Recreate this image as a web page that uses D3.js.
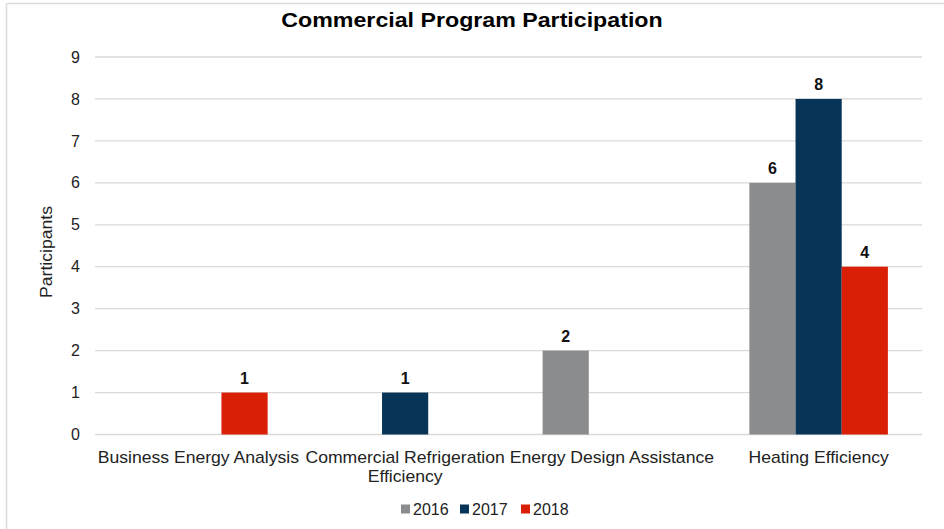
<!DOCTYPE html>
<html>
<head>
<meta charset="utf-8">
<script src="https://cdn.jsdelivr.net/npm/d3@7"></script>
<style>
  html, body { margin: 0; padding: 0; background: #fff; }
  svg { display: block; font-family: "Liberation Sans", Arial, sans-serif; }
</style>
</head>
<body>
<svg id="chart" width="944" height="529"></svg>
<script>
// Program participation counts by year (null = no participants, no bar drawn)
const programs = [
  ["Business Energy Analysis"],
  ["Commercial Refrigeration", "Efficiency"],
  ["Energy Design Assistance"],
  ["Heating Efficiency"]
];
const years = ["2016", "2017", "2018"];
const values2016 = [null, null, 2, 6];
const values2017 = [null, 1, null, 8];
const values2018 = [1, null, null, 4];
const yTicks = [0, 1, 2, 3, 4, 5, 6, 7, 8, 9];
const colors = ["#8b8c8e", "#083557", "#d92007"];

const seriesValues = [values2016, values2017, values2018];
const svg = d3.select("#chart");

// outer frame
svg.append("line").attr("x1", 6.5).attr("x2", 944).attr("y1", 3.5).attr("y2", 3.5)
  .attr("stroke", "#dcdcdc").attr("stroke-width", 1.5);
svg.append("line").attr("x1", 6.5).attr("x2", 6.5).attr("y1", 3.5).attr("y2", 529)
  .attr("stroke", "#dcdcdc").attr("stroke-width", 1.5);

const plotLeft = 95, plotRight = 922, plotTop = 57, plotBottom = 434.5;

const x0 = d3.scaleBand().domain(programs.map(p => p.join(" ")))
  .range([plotLeft, plotRight]).paddingInner(0.33).paddingOuter(0.165);
const x1 = d3.scaleBand().domain(years).range([0, x0.bandwidth()]);
const y = d3.scaleLinear().domain([0, 9]).range([plotBottom, plotTop]);

// title (slightly widened face)
svg.append("text").attr("transform", "translate(472,27) scale(1.16,1)")
  .attr("text-anchor", "middle")
  .attr("font-size", 20).attr("font-weight", "bold").attr("fill", "#000")
  .text("Commercial Program Participation");

// gridlines
svg.append("g").selectAll("line").data(yTicks).join("line")
  .attr("x1", plotLeft).attr("x2", plotRight)
  .attr("y1", d => y(d)).attr("y2", d => y(d))
  .attr("stroke", "#d9d9d9").attr("stroke-width", 1.3);

// y axis labels
const yAxis = d3.axisLeft(y).tickValues(yTicks).tickSize(0).tickPadding(0).tickFormat(d3.format("d"));
const gy = svg.append("g").attr("transform", `translate(${plotLeft - 15},0)`).call(yAxis);
gy.select(".domain").remove();
gy.selectAll("text").attr("font-size", 16).attr("fill", "#222")
  .attr("font-family", "Liberation Sans, Arial, sans-serif");

// y axis title
svg.append("text").attr("transform", `translate(52,252) rotate(-90) scale(1.1,1)`)
  .attr("text-anchor", "middle").attr("font-size", 16).attr("fill", "#222")
  .text("Participants");

// bars
const groups = svg.append("g").selectAll("g").data(programs).join("g")
  .attr("transform", p => `translate(${x0(p.join(" "))},0)`);

groups.each(function(p, i) {
  const g = d3.select(this);
  const entries = years.map((yr, s) => ({ yr, s, v: seriesValues[s][i] })).filter(e => e.v != null);
  g.selectAll("rect").data(entries).join("rect")
    .attr("x", e => x1(e.yr))
    .attr("width", x1.bandwidth())
    .attr("y", e => y(e.v))
    .attr("height", e => y(0) - y(e.v))
    .attr("fill", e => colors[e.s]);
  g.selectAll("text.val").data(entries).join("text").attr("class", "val")
    .attr("x", e => x1(e.yr) + x1.bandwidth() / 2)
    .attr("y", e => y(e.v) - 9)
    .attr("text-anchor", "middle").attr("font-size", 16).attr("font-weight", "bold")
    .attr("fill", "#111")
    .text(e => e.v);
});

// category labels (slightly widened face)
const cat = svg.append("g").selectAll("text").data(programs).join("text")
  .attr("transform", p => `translate(${x0(p.join(" ")) + x0.bandwidth() / 2},463) scale(1.1,1)`)
  .attr("text-anchor", "middle").attr("font-size", 16).attr("fill", "#222");
cat.selectAll("tspan").data(p => p).join("tspan")
  .attr("x", 0)
  .attr("dy", (d, i) => i === 0 ? 0 : 19)
  .text(d => d);

// legend
const legendX = [401, 460, 521];
const lg = svg.append("g").selectAll("g").data(years).join("g")
  .attr("transform", (d, i) => `translate(${legendX[i]},509)`);
lg.append("rect").attr("x", 0).attr("y", -4.5).attr("width", 9).attr("height", 9)
  .attr("fill", (d, i) => colors[i]);
lg.append("text").attr("x", 12).attr("y", 6).attr("font-size", 16).attr("fill", "#222")
  .text(d => d);
</script>
</body>
</html>
